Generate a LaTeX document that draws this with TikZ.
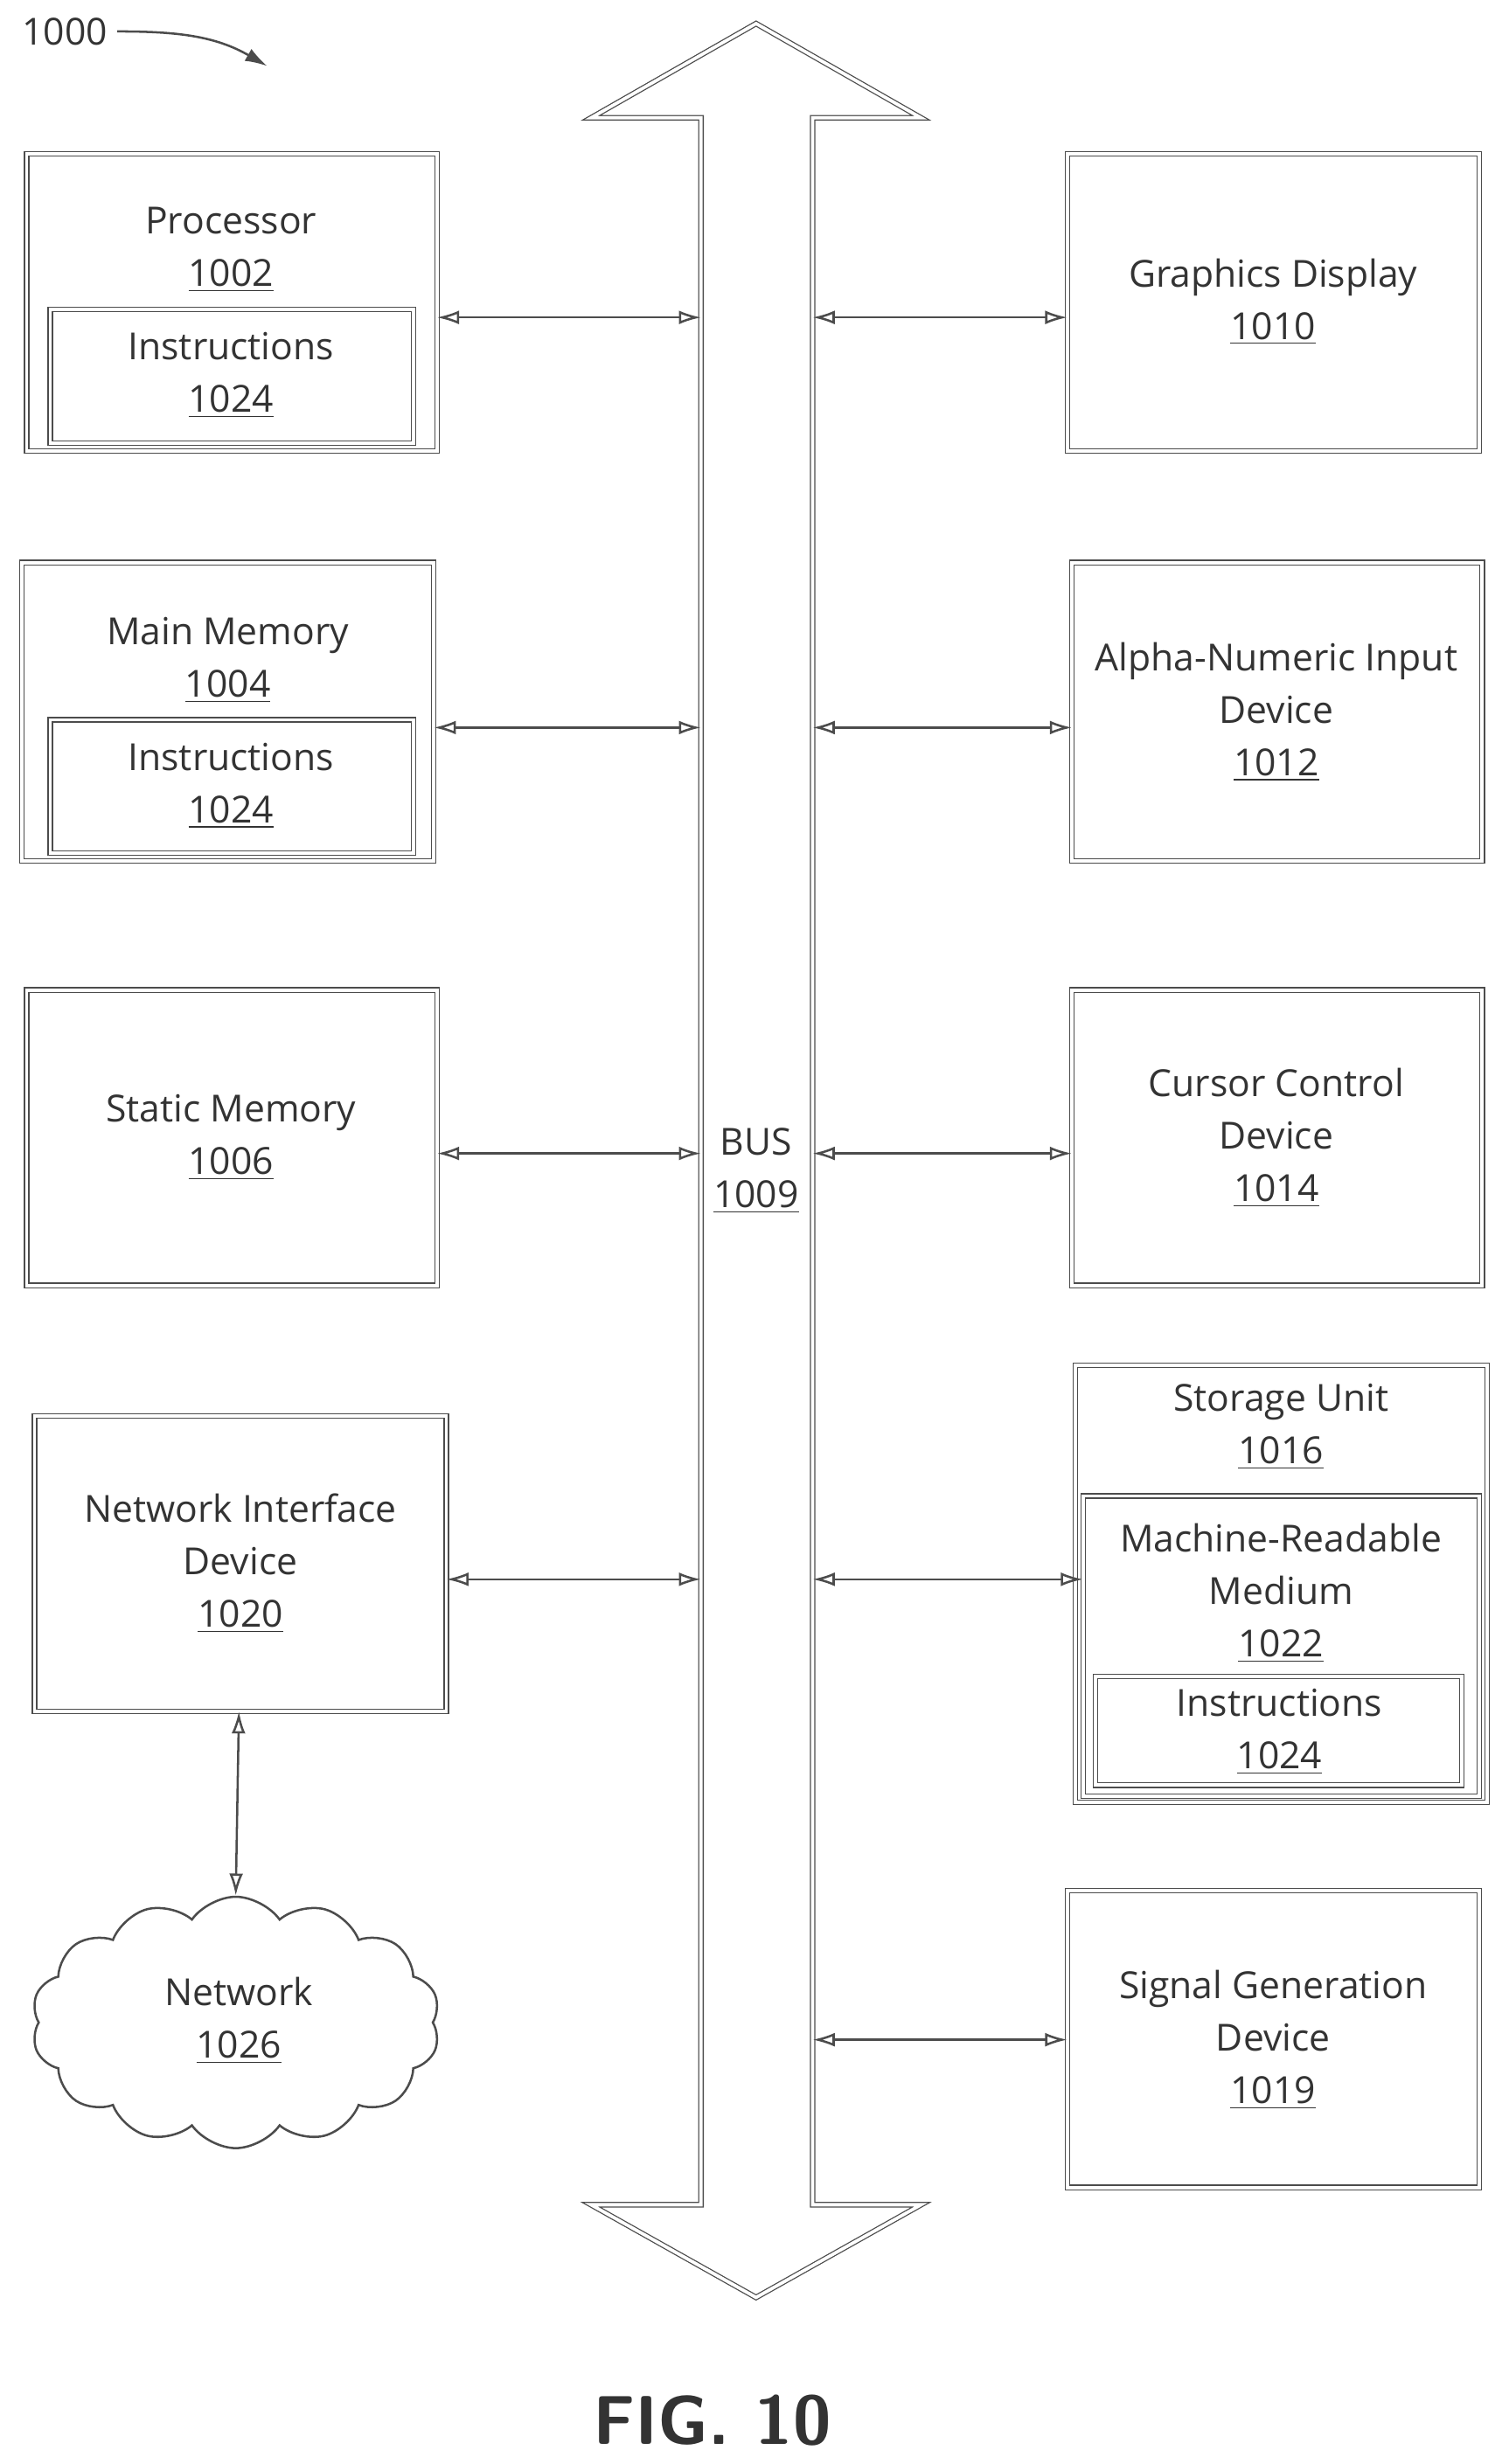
\documentclass[tikz,border=0pt]{standalone}
\usepackage{fontspec}
\setmainfont{Open Sans}
\usetikzlibrary{shapes.symbols,arrows.meta}
\tikzstyle{unit}=[draw=black!70, double=white, double distance=1.2pt, line width=0.4pt]
\tikzstyle{lbl}=[align=center, font=\fontsize{13.5}{19}\selectfont, text=black!80]
\tikzstyle{link}=[draw=black!70, line width=0.8pt, {Latex[length=8pt,width=5pt,open]}-{Latex[length=8pt,width=5pt,open]}]
\begin{document}
\begin{tikzpicture}[x=0.02cm, y=-0.02cm]
\useasboundingbox (0,0) rectangle (960,1568);
% bus
\draw[unit] (446,75) -- (376,75) -- (481,15) -- (586,75) -- (517,75)
  -- (517,1403) -- (586,1403) -- (481,1462) -- (376,1403) -- (446,1403) -- cycle;
\node[lbl] (bus) at (481,745) {BUS\\\underline{1009}};
% left column
\draw[unit] (17,98) rectangle (278,287);
\draw[unit] (32,197) rectangle (263,282);
\node[lbl] (proc) at (147,159) {Processor\\\underline{1002}};
\node[lbl] (proci) at (147,239) {Instructions\\\underline{1024}};
\draw[unit] (14,358) rectangle (276,548);
\draw[unit] (32,458) rectangle (263,543);
\node[lbl] (mem) at (145,420) {Main Memory\\\underline{1004}};
\node[lbl] (memi) at (147,500) {Instructions\\\underline{1024}};
\draw[unit] (17,630) rectangle (278,818);
\node[lbl] (stat) at (147,724) {Static Memory\\\underline{1006}};
\draw[unit] (22,901) rectangle (284,1089);
\node[lbl] (nic) at (153,995) {Network Interface\\Device\\\underline{1020}};
\node[draw=black!70, cloud, cloud puffs=14, cloud puff arc=110, aspect=1.7, minimum width=5.2cm, minimum height=3.2cm, line width=0.8pt] (cloud) at (150,1287) {};
\node[lbl] (netl) at (152,1286) {Network\\\underline{1026}};
% right column
\draw[unit] (679,98) rectangle (941,287);
\node[lbl] (gfx) at (810,192) {Graphics Display\\\underline{1010}};
\draw[unit] (682,358) rectangle (943,548);
\node[lbl] (alpha) at (812,453) {Alpha-Numeric Input\\Device\\\underline{1012}};
\draw[unit] (682,630) rectangle (943,818);
\node[lbl] (cur) at (812,724) {Cursor Control\\Device\\\underline{1014}};
\draw[unit] (684,869) rectangle (946,1147);
\draw[unit] (689,952) rectangle (941,1143);
\draw[unit] (697,1067) rectangle (930,1136);
\node[lbl] (stor) at (815,908) {Storage Unit\\\underline{1016}};
\node[lbl] (mrm) at (815,1014) {Machine-Readable\\Medium\\\underline{1022}};
\node[lbl] (stori) at (814,1102) {Instructions\\\underline{1024}};
\draw[unit] (679,1203) rectangle (941,1392);
\node[lbl] (sig) at (810,1298) {Signal Generation\\Device\\\underline{1019}};
% connectors
\draw[link] (278,202) -- (446,202);
\draw[link] (276,463) -- (446,463);
\draw[link] (278,734) -- (446,734);
\draw[link] (284,1005) -- (446,1005);
\draw[link] (517,202) -- (679,202);
\draw[link] (517,463) -- (682,463);
\draw[link] (517,734) -- (682,734);
\draw[link] (517,1005) -- (689,1005);
\draw[link] (517,1298) -- (679,1298);
\draw[link] (152,1089) -- (cloud.north);
% labels
\node[lbl, anchor=west] (ref) at (8,20) {1000};
\draw[black!70, line width=0.8pt, -{Latex[length=8pt,width=5pt]}] (ref.east) to[out=0, in=150] (170,42);
\node[font=\sffamily\bfseries\fontsize{25}{30}\selectfont, text=black!80] (fig) at (453,1540) {FIG. 10};
\end{tikzpicture}
\end{document}
